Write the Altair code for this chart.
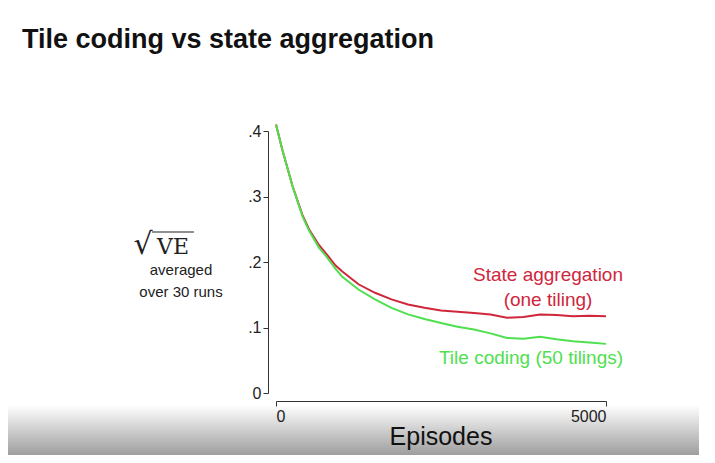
import altair as alt
import pandas as pd

episodes = [0, 100, 250, 400, 500, 650, 750, 900, 1000, 1250, 1500, 1750, 2000, 2250, 2500,
            2750, 3000, 3250, 3500, 3750, 4000, 4250, 4500, 4750, 5000]
state_agg = [0.41, 0.37, 0.316, 0.272, 0.25, 0.226, 0.214, 0.195, 0.186, 0.166, 0.153, 0.143,
             0.135, 0.13, 0.126, 0.124, 0.122, 0.12, 0.115, 0.116, 0.12, 0.119, 0.117, 0.118, 0.117]
tile_coding = [0.41, 0.37, 0.316, 0.27, 0.248, 0.222, 0.21, 0.19, 0.178, 0.158, 0.143, 0.13,
               0.12, 0.113, 0.107, 0.101, 0.097, 0.091, 0.084, 0.083, 0.086, 0.082, 0.079, 0.077, 0.075]

df = pd.concat([
    pd.DataFrame({"Episodes": episodes, "VE": state_agg, "Method": "State aggregation"}),
    pd.DataFrame({"Episodes": episodes, "VE": tile_coding, "Method": "Tile coding"}),
])

RED = "#d0263c"
GREEN = "#4ee04e"
FONT = "Liberation Sans"
one = pd.DataFrame({"a": [0]})

lines = alt.Chart(df).mark_line(strokeWidth=2).encode(
    x=alt.X("Episodes:Q", scale=alt.Scale(domain=[0, 5000], nice=False),
            axis=alt.Axis(values=[0, 5000], format="d", title=None, offset=8, labelFontSize=16,
                          labelFont=FONT, domainColor="#333", tickColor="#333",
                          labelColor="#222", grid=False, zindex=1)),
    y=alt.Y("VE:Q", scale=alt.Scale(domain=[0, 0.4], nice=False),
            axis=alt.Axis(values=[0, 0.1, 0.2, 0.3, 0.4], title=None, offset=8,
                          labelExpr="datum.value == 0 ? '0' : replace(format(datum.value, '.1f'), '0.', '.')",
                          labelFontSize=16, labelFont=FONT, domainColor="#333",
                          tickColor="#333", labelColor="#222", grid=False, zindex=1)),
    color=alt.Color("Method:N", scale=alt.Scale(domain=["State aggregation", "Tile coding"],
                                                range=[RED, GREEN]), legend=None),
)

band = alt.Chart(one).mark_rect(
    color=alt.Gradient(gradient="linear", x1=0, x2=0, y1=0, y2=1,
                       stops=[alt.GradientStop(color="#ffffff", offset=0),
                              alt.GradientStop(color="#9a9a9a", offset=1)])
).encode(x=alt.value(-284), x2=alt.value(447), y=alt.value(274), y2=alt.value(326))
green_bar = alt.Chart(one).mark_rect(color="#2aa84a").encode(
    x=alt.value(-284), x2=alt.value(447), y=alt.value(326), y2=alt.value(340))


def label(text, x, y, size=19, color="#222", weight="normal", align="center", font=FONT):
    return alt.Chart(one).mark_text(text=text, fontSize=size, color=color, fontWeight=weight,
                                    align=align, baseline="middle", font=font).encode(
        x=alt.value(x), y=alt.value(y))


texts = [
    label("Tile coding vs state aggregation", -254, -91, size=27, weight="bold", align="left", color="#111"),
    label("√", -133, 114, size=30, font="DejaVu Serif"),
    label("VE", -103, 116, size=22, font="DejaVu Serif"),
    label("averaged", -95, 139, size=15),
    label("over 30 runs", -95, 161, size=15),
    label("State aggregation", 272, 144, color=RED),
    label("(one tiling)", 272, 169, color=RED),
    label("Tile coding (50 tilings)", 255, 227, color=GREEN),
    label("Episodes", 165, 306, size=25, color="#111"),
]
overline = alt.Chart(one).mark_rule(color="#222", strokeWidth=1.2).encode(
    x=alt.value(-124), x2=alt.value(-82), y=alt.value(101))

chart = alt.layer(band, green_bar, lines, overline, *texts).properties(
    width=330, height=262,
    padding={"left": 268, "top": 123, "right": 93, "bottom": 62},
    autosize=alt.AutoSizeParams(type="none"),
).configure_view(stroke=None)

chart.save("out.html", embed_options={"renderer": "svg", "actions": False})
